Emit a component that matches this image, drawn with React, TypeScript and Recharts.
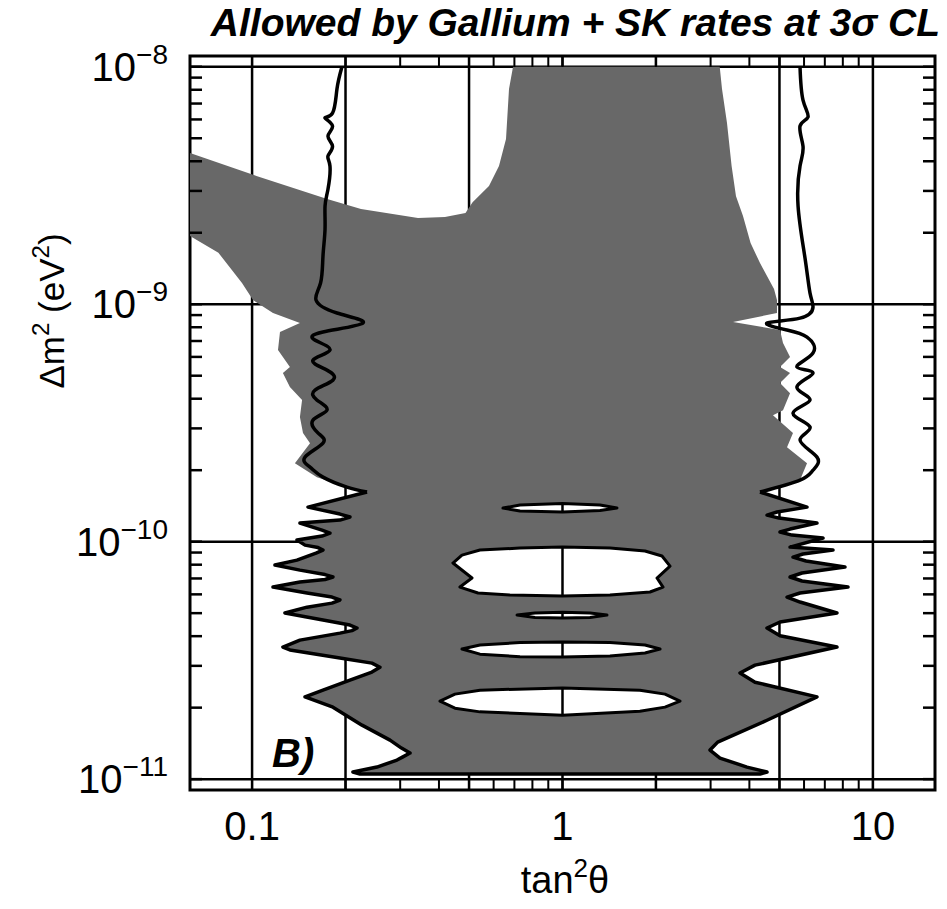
import React from 'react';
import { ComposedChart, XAxis, YAxis, Scatter, CartesianGrid, ReferenceArea } from 'recharts';

const W = 947;
const H = 909;
const PL = 190;
const PR = 935;
const PT = 56;
const PB = 790;
const FONT = "'Liberation Sans', Arial, Helvetica, sans-serif";
const GREY = '#686868';

const xDomain = [0.0631, 15.85];
const yDomain = [9.0e-12, 1.11e-8];

const xMinorTicks = [0.1, 0.2, 0.3, 0.4, 0.5, 0.6, 0.7, 0.8, 0.9, 1, 2, 3, 4, 5, 6, 7, 8, 9, 10];
const xLabelTicks = [0.1, 1, 10];
const xTickText = ['0.1', '1', '10'];
const yMinorTicks = [
  1e-11, 2e-11, 3e-11, 4e-11, 5e-11, 6e-11, 7e-11, 8e-11, 9e-11,
  1e-10, 2e-10, 3e-10, 4e-10, 5e-10, 6e-10, 7e-10, 8e-10, 9e-10,
  1e-9, 2e-9, 3e-9, 4e-9, 5e-9, 6e-9, 7e-9, 8e-9, 9e-9, 1e-8,
];
const yLabelTicks = [1e-11, 1e-10, 1e-9, 1e-8];
const yTickExp = ['\u221211', '\u221210', '\u22129', '\u22128'];
const xGridValues = [0.1, 0.2, 0.5, 1, 2, 5, 10];
const yGridValues = [1e-11, 1e-10, 1e-9, 1e-8];

// [tan^2 theta, dm^2] pairs
const leftTeeth: [number, number][] = [
  [0.2346, 1.618e-10], [0.1514, 1.398e-10], [0.1919, 1.307e-10], [0.2067, 1.27e-10],
  [0.1919, 1.233e-10], [0.1426, 1.198e-10], [0.168, 1.119e-10], [0.1782, 1.087e-10],
  [0.168, 1.056e-10], [0.1395, 1.016e-10], [0.1481, 9.67e-11], [0.1631, 9.445e-11],
  [0.1692, 9.22e-11], [0.1607, 8.95e-11], [0.1395, 8.36e-11], [0.1185, 7.97e-11],
  [0.1426, 7.59e-11], [0.1718, 7.27e-11], [0.1822, 7.1e-11], [0.1718, 6.93e-11],
  [0.1426, 6.76e-11], [0.1168, 6.44e-11], [0.1503, 6.08e-11], [0.1809, 5.845e-11],
  [0.1919, 5.68e-11], [0.1809, 5.51e-11], [0.1503, 5.3e-11], [0.1276, 5.01e-11],
  [0.1692, 4.68e-11], [0.2067, 4.456e-11], [0.2178, 4.33e-11], [0.2098, 4.222e-11],
  [0.1919, 4.12e-11], [0.1426, 3.85e-11], [0.1257, 3.6e-11], [0.1324, 3.5e-11],
  [0.1919, 3.24e-11], [0.2433, 3.08e-11], [0.2582, 2.96e-11], [0.2433, 2.824e-11],
  [0.2067, 2.61e-11], [0.1692, 2.37e-11], [0.1481, 2.22e-11], [0.1822, 2.01e-11],
  [0.226, 1.688e-11], [0.2782, 1.46e-11], [0.3029, 1.351e-11], [0.3227, 1.288e-11],
  [0.3051, 1.238e-11], [0.293, 1.203e-11], [0.2525, 1.124e-11], [0.2113, 1.071e-11],
];
const bottomEdge: [number, number][] = [[0.2227, 1.05e-11], [4.328, 1.05e-11]];
const rightTeeth: [number, number][] = [
  [4.559, 1.071e-11], [3.93, 1.124e-11], [3.216, 1.227e-11], [2.987, 1.326e-11],
  [3.162, 1.432e-11], [4.559, 1.77e-11], [6.605, 2.22e-11], [4.171, 2.56e-11],
  [3.731, 2.8e-11], [4.171, 3.02e-11], [7.662, 3.6e-11], [5.02, 4.015e-11],
  [4.559, 4.33e-11], [5.02, 4.59e-11], [7.662, 5.01e-11], [5.824, 5.57e-11],
  [5.288, 5.84e-11], [5.824, 6.08e-11], [8.313, 6.44e-11], [5.91, 6.83e-11],
  [5.408, 7.1e-11], [5.91, 7.38e-11], [8.129, 7.82e-11], [6.089, 8.29e-11],
  [5.528, 8.61e-11], [5.954, 8.87e-11], [7.438, 9.22e-11], [5.408, 9.49e-11],
  [6.907, 1.036e-10], [5.487, 1.066e-10], [5.02, 1.098e-10], [5.408, 1.13e-10],
  [6.605, 1.198e-10], [4.984, 1.257e-10], [4.559, 1.294e-10], [4.909, 1.333e-10],
  [6.134, 1.398e-10], [4.328, 1.618e-10],
];
const rightUpperEdge: [number, number][] = [
  [5.824, 1.817e-10], [6.134, 2.14e-10], [5.288, 2.5e-10], [5.528, 2.87e-10],
  [4.765, 3.41e-10], [5.133, 3.58e-10], [5.408, 4.22e-10], [5.02, 4.66e-10],
  [5.408, 5.13e-10], [5.02, 5.44e-10], [5.408, 5.99e-10], [5.133, 6.86e-10],
  [5.02, 7.79e-10], [3.543, 8.41e-10], [4.909, 9.18e-10], [4.909, 1.041e-9],
  [4.802, 1.158e-9], [4.328, 1.49e-9], [4.036, 1.81e-9], [3.815, 2.35e-9],
  [3.622, 2.85e-9], [3.506, 3.82e-9], [3.388, 5.79e-9], [3.265, 8.06e-9], [3.21, 1e-8],
];
const columnLeftEdge: [number, number][] = [
  [0.6929, 1e-8], [0.6725, 8.06e-9], [0.6577, 4.96e-9], [0.6243, 3.82e-9],
  [0.5797, 3.15e-9], [0.5133, 2.69e-9], [0.487, 2.42e-9], [0.4182, 2.33e-9], [0.3424, 2.31e-9],
];
const bandTopEdge: [number, number][] = [
  [0.2243, 2.52e-9], [0.1756, 2.77e-9], [0.1033, 3.47e-9], [0.0631, 4.33e-9],
];
const leftUpperEdge: [number, number][] = [
  [0.0631, 1.94e-9], [0.0779, 1.647e-9], [0.0928, 1.228e-9], [0.1007, 1.041e-9],
  [0.1168, 9.18e-10], [0.1426, 8.33e-10], [0.123, 7.64e-10], [0.1212, 6.41e-10],
  [0.1324, 5.44e-10], [0.1257, 5.13e-10], [0.1324, 4.48e-10], [0.1449, 3.95e-10],
  [0.1426, 3.35e-10], [0.1459, 2.87e-10], [0.1537, 2.6e-10], [0.1374, 2.14e-10],
  [0.1618, 1.87e-10], [0.2021, 1.698e-10],
];

const leftContour: [number, number][] = [
  [0.1948, 1e-8], [0.1877, 8.06e-9], [0.1816, 6.38e-9], [0.1718, 6.08e-9], [0.1816, 5.63e-9],
  [0.1756, 5.11e-9], [0.1816, 4.63e-9], [0.1756, 4.21e-9], [0.1782, 3.82e-9], [0.1756, 3.05e-9],
  [0.1718, 2.59e-9], [0.1718, 2.07e-9], [0.1692, 1.595e-9], [0.1662, 1.228e-9], [0.1607, 1.041e-9],
  [0.1877, 9.18e-10], [0.2277, 8.33e-10], [0.1692, 7.64e-10], [0.1595, 7.06e-10], [0.1782, 6.41e-10],
  [0.1571, 5.82e-10], [0.1743, 5.28e-10], [0.1822, 4.79e-10], [0.1595, 4.35e-10], [0.1618, 3.95e-10],
  [0.1743, 3.58e-10], [0.1571, 3.25e-10], [0.1631, 2.87e-10], [0.1692, 2.6e-10], [0.1481, 2.27e-10],
  [0.1537, 2.06e-10], [0.1692, 1.87e-10], [0.2021, 1.698e-10], [0.2346, 1.618e-10],
];
const rightContour: [number, number][] = [
  [4.328, 1.618e-10], [5.824, 1.817e-10], [6.412, 2.0e-10], [6.605, 2.27e-10], [5.824, 2.68e-10],
  [6.272, 3.04e-10], [5.528, 3.48e-10], [6.272, 3.95e-10], [5.69, 4.48e-10], [6.412, 5.13e-10],
  [5.69, 5.44e-10], [6.412, 6.23e-10], [6.134, 7.27e-10], [5.288, 7.79e-10], [4.559, 8.33e-10],
  [5.824, 8.74e-10], [6.412, 9.73e-10], [6.272, 1.114e-9], [6.043, 1.565e-9], [5.74, 2.59e-9],
  [5.824, 3.82e-9], [5.954, 4.63e-9], [5.824, 5.63e-9], [6.18, 6.14e-9], [5.954, 7.24e-9], [5.824, 1e-8],
];

const hole1: [number, number][] = [
  [0.643, 1.385e-10], [0.7296, 1.426e-10], [1.0, 1.447e-10], [1.321, 1.426e-10],
  [1.498, 1.385e-10], [1.321, 1.352e-10], [1.0, 1.333e-10], [0.7296, 1.346e-10],
];
const hole2: [number, number][] = [
  [0.4437, 8.13e-11], [0.4744, 8.78e-11], [0.5422, 9.22e-11], [0.7296, 9.4e-11], [1.0, 9.49e-11],
  [1.4224, 9.4e-11], [1.844, 9.13e-11], [2.092, 8.7e-11], [2.22, 7.89e-11], [2.016, 7.03e-11],
  [2.108, 6.44e-11], [1.914, 6.14e-11], [1.4224, 5.96e-11], [1.0, 5.9e-11], [0.6774, 5.96e-11],
  [0.5343, 6.08e-11], [0.4673, 6.44e-11], [0.5111, 7.03e-11],
];
const hole3: [number, number][] = [
  [0.7138, 4.91e-11], [0.8153, 5.01e-11], [1.0, 5.05e-11], [1.2265, 5.01e-11],
  [1.391, 4.91e-11], [1.2265, 4.79e-11], [1.0, 4.77e-11], [0.8153, 4.79e-11],
];
const hole4: [number, number][] = [
  [0.4744, 3.53e-11], [0.5422, 3.67e-11], [0.7296, 3.76e-11], [1.0, 3.78e-11], [1.4224, 3.76e-11],
  [1.844, 3.67e-11], [2.062, 3.53e-11], [1.844, 3.4e-11], [1.4224, 3.3e-11], [1.0, 3.27e-11],
  [0.7296, 3.28e-11], [0.5422, 3.36e-11],
];
const hole5: [number, number][] = [
  [0.403, 2.13e-11], [0.4504, 2.28e-11], [0.5422, 2.37e-11], [1.0, 2.42e-11], [1.776, 2.37e-11],
  [2.139, 2.28e-11], [2.391, 2.13e-11], [2.139, 2.01e-11], [1.776, 1.93e-11], [1.0, 1.86e-11],
  [0.5422, 1.92e-11], [0.4504, 1.99e-11],
];
const holes = [hole1, hole2, hole3, hole4, hole5];
// maximal-mixing line (tan^2 = 1) visible inside each hole
const mixingSegments: [number, number][][] = [
  [[1, 1.447e-10], [1, 1.333e-10]],
  [[1, 9.49e-11], [1, 5.9e-11]],
  [[1, 5.05e-11], [1, 4.77e-11]],
  [[1, 3.78e-11], [1, 3.27e-11]],
  [[1, 2.42e-11], [1, 1.86e-11]],
];

const toPts = (arr: [number, number][]) => arr.map(([x, y]) => ({ x, y }));

const allowedRegion = [
  ...leftTeeth, ...bottomEdge, ...rightTeeth, ...rightUpperEdge,
  ...columnLeftEdge, ...bandTopEdge, ...leftUpperEdge,
];
const lowerContour = [...leftTeeth, ...bottomEdge, ...rightTeeth];

const NoDot = () => <g />;

const near = (a: number, b: number) => Math.abs(a - b) / b < 1e-6;

function XTick(props: any) {
  const { x, payload } = props;
  const v = payload.value;
  const idx = xLabelTicks.findIndex((t) => near(v, t));
  return (
    <g>
      <line x1={x} x2={x} y1={PB} y2={PB - 11} stroke="#000" strokeWidth={2} />
      <line x1={x} x2={x} y1={PT} y2={PT + 11} stroke="#000" strokeWidth={2} />
      {idx >= 0 && (
        <text x={x} y={PB + 50} textAnchor="middle" fontSize={40} fontFamily={FONT} fill="#000">
          {xTickText[idx]}
        </text>
      )}
    </g>
  );
}

function YTick(props: any) {
  const { y, payload } = props;
  const v = payload.value;
  const idx = yLabelTicks.findIndex((t) => near(v, t));
  return (
    <g>
      <line x1={PL} x2={PL + 12} y1={y} y2={y} stroke="#000" strokeWidth={2.5} />
      <line x1={PR} x2={PR - 12} y1={y} y2={y} stroke="#000" strokeWidth={2.5} />
      {idx >= 0 && (
        <text x={168} y={y + 14} textAnchor="end" fontSize={40} fontFamily={FONT} fill="#000">
          <tspan>10</tspan>
          <tspan dy={-17} fontSize={28}>{yTickExp[idx]}</tspan>
        </text>
      )}
    </g>
  );
}

export default function App() {
  return (
    <div style={{ position: 'absolute', left: 0, top: 0, width: W, height: H, background: '#fff' }}>
      <ComposedChart
        width={W}
        height={H}
        margin={{ top: PT, right: W - PR, bottom: H - PB - 30, left: PL - 60 }}
      >
        <CartesianGrid
          stroke="#000"
          strokeWidth={2.5}
          horizontalValues={yGridValues}
          verticalValues={xGridValues}
        />
        <XAxis
          type="number"
          dataKey="x"
          scale="log"
          domain={xDomain}
          allowDataOverflow
          ticks={xMinorTicks}
          interval={0}
          tick={<XTick />}
          tickLine={false}
          axisLine={false}
          tickSize={0}
          tickMargin={0}
          height={30}
        />
        <YAxis
          type="number"
          dataKey="y"
          scale="log"
          domain={yDomain}
          allowDataOverflow
          ticks={yMinorTicks}
          interval={0}
          tick={<YTick />}
          tickLine={false}
          axisLine={false}
          tickSize={0}
          tickMargin={0}
          width={60}
        />
        <Scatter
          data={toPts(allowedRegion)}
          fill="none"
          shape={<NoDot />}
          line={{ fill: GREY, stroke: 'none' }}
          lineJointType="linearClosed"
          isAnimationActive={false}
        />
        {holes.map((h, i) => (
          <Scatter
            key={'hole' + i}
            data={toPts(h)}
            fill="none"
            shape={<NoDot />}
            line={{ fill: '#fff', stroke: '#000', strokeWidth: 3, strokeLinejoin: 'round' }}
            lineJointType="linearClosed"
            isAnimationActive={false}
          />
        ))}
        {mixingSegments.map((s, i) => (
          <Scatter
            key={'mix' + i}
            data={toPts(s)}
            fill="none"
            shape={<NoDot />}
            line={{ fill: 'none', stroke: '#000', strokeWidth: 2.5 }}
            lineJointType="linear"
            isAnimationActive={false}
          />
        ))}
        <Scatter
          data={toPts(leftContour)}
          fill="none"
          shape={<NoDot />}
          line={{ fill: 'none', stroke: '#000', strokeWidth: 3.5 }}
          lineJointType="natural"
          isAnimationActive={false}
        />
        <Scatter
          data={toPts(rightContour)}
          fill="none"
          shape={<NoDot />}
          line={{ fill: 'none', stroke: '#000', strokeWidth: 3.5 }}
          lineJointType="natural"
          isAnimationActive={false}
        />
        <Scatter
          data={toPts(lowerContour)}
          fill="none"
          shape={<NoDot />}
          line={{ fill: 'none', stroke: '#000', strokeWidth: 3.5, strokeLinejoin: 'round' }}
          lineJointType="linear"
          isAnimationActive={false}
        />
        <ReferenceArea
          x1={xDomain[0]}
          x2={xDomain[1]}
          y1={yDomain[0]}
          y2={yDomain[1]}
          fill="none"
          fillOpacity={0}
          stroke="#000"
          strokeWidth={3}
          ifOverflow="visible"
        />
      </ComposedChart>
      <svg
        width={W}
        height={H}
        style={{ position: 'absolute', left: 0, top: 0, pointerEvents: 'none' }}
      >
        <text x={940} y={36} textAnchor="end" fontSize={39} fontWeight="bold" fontStyle="italic" fontFamily={FONT} fill="#000">
          Allowed by Gallium + SK rates at 3σ CL
        </text>
        <text x={565} y={893} textAnchor="middle" fontSize={38} fontFamily={FONT} fill="#000">
          tan<tspan dy={-16} fontSize={26}>2</tspan><tspan dy={16}>θ</tspan>
        </text>
        <text transform="translate(64,311) rotate(-90)" textAnchor="middle" fontSize={35} fontFamily={FONT} fill="#000">
          Δm<tspan dy={-15} fontSize={24}>2</tspan><tspan dy={15}> (eV</tspan><tspan dy={-15} fontSize={24}>2</tspan><tspan dy={15}>)</tspan>
        </text>
        <text x={272} y={767} fontSize={40} fontWeight="bold" fontStyle="italic" fontFamily={FONT} fill="#000">
          B)
        </text>
      </svg>
    </div>
  );
}
